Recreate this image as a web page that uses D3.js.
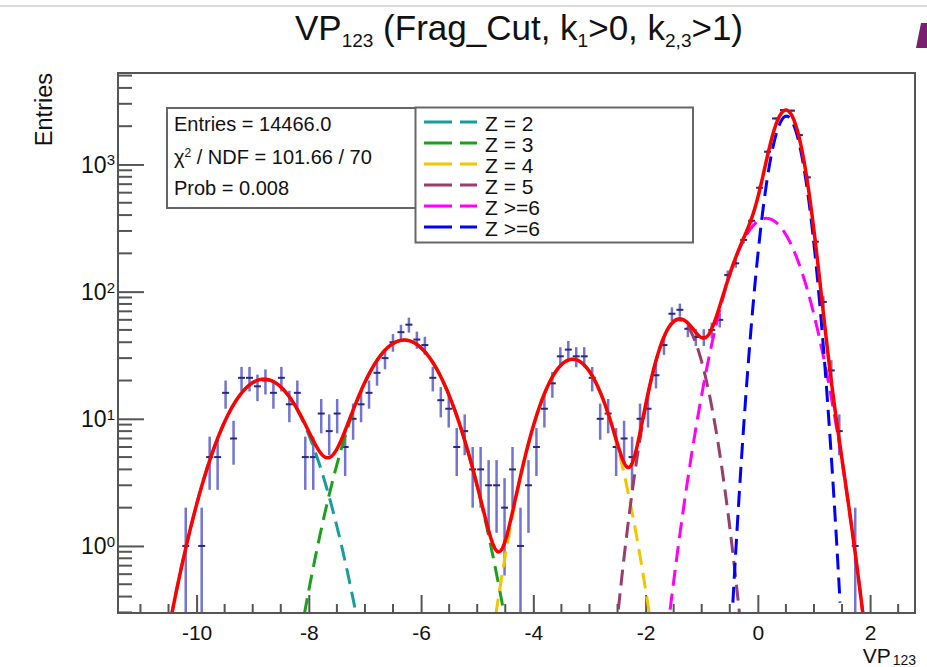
<!DOCTYPE html>
<html>
<head>
<meta charset="utf-8">
<script src="https://cdnjs.cloudflare.com/ajax/libs/d3/7.8.5/d3.min.js"></script>
<style>
body { margin: 0; background: #fff; }
svg { display: block; font-family: "Liberation Sans", Arial, Helvetica, sans-serif; }
</style>
</head>
<body>
<div id="chart"></div>
<script>
// ---- histogram (VP123), 100 bins from -11.4 to 2.8 ----
const binLow = -11.4;
const binWidth = 0.142;
const firstBin = 8;   // index of first bin listed below
const binCounts = [
  1, 0, 1, 5, 5, 16, 7, 21, 21, 18,
  20, 16, 21, 13, 16, 5, 5, 11, 8, 11,
  6, 10, 13, 16, 23, 30, 40, 48, 55, 42,
  38, 21, 14, 12, 6, 8, 4, 4, 3, 3,
  2, 4, 1, 3, 6, 12, 19, 31, 35, 31,
  31, 21, 10, 11, 6, 7, 5, 10, 12, 22,
  38, 67, 72, 51, 44, 44, 50, 60, 135, 167,
  255, 361, 656, 1259, 2300, 2678, 2650, 1702, 792, 247,
  83, 24, 8, 0, 1
];

// ---- fit components (gaussians) ----
const compLabels = ["Z = 2", "Z = 3", "Z = 4", "Z = 5", "Z >=6", "Z >=6"];
const compColors = ["#1a9c9c", "#1aa01a", "#f5c400", "#993d6b", "#ff00ff", "#0000ff"];
const compAmp    = [20.5, 41.6, 29.4, 60, 377, 2400];
const compMean   = [-8.8, -6.3, -3.3, -1.41, 0.15, 0.51];
const compSigma  = [0.563, 0.565, 0.45, 0.332, 0.455, 0.2275];

// ---- axes ----
const xMajorTicks = [-10, -8, -6, -4, -2, 0, 2];
const xTickLabels = ["-10", "-8", "-6", "-4", "-2", "0", "2"];
const yMajorTicks = [1, 10, 100, 1000];
const yTickExp = ["0", "1", "2", "3"];

const statsLines = ["Entries = 14466.0", "/ NDF = 101.66 / 70", "Prob = 0.008"];

const W = 927, H = 667;
const frame = {left: 118, right: 915, top: 73, bottom: 613};

const x = d3.scaleLinear().domain([-11.4, 2.8]).range([frame.left, frame.right]);
const y = d3.scaleLog().domain([0.297, 5240]).range([frame.bottom, frame.top]);

const svg = d3.select("#chart").append("svg")
    .attr("width", W)
    .attr("height", H);

svg.append("defs").append("clipPath").attr("id", "plotClip").append("rect")
    .attr("x", frame.left).attr("y", frame.top)
    .attr("width", frame.right - frame.left)
    .attr("height", frame.bottom - frame.top);

// thin line at top of the canvas
svg.append("line")
    .attr("x1", 0).attr("x2", W).attr("y1", 6).attr("y2", 6)
    .style("stroke", "#cfcfcf").style("stroke-width", 1.5);

// purple corner piece
svg.append("path")
    .attr("d", "M921,23 L927,23 L927,48 L916,48 Z")
    .style("fill", "#7a1f6e");

// ---- title ----
let title = svg.append("text")
    .attr("x", 519).attr("y", 40)
    .attr("text-anchor", "middle")
    .style("font-size", "35px")
    .style("fill", "#111");
title.append("tspan").text("VP");
title.append("tspan").attr("dy", 7).style("font-size", "19px").text("123");
title.append("tspan").attr("dy", -7).text(" (Frag_Cut, k");
title.append("tspan").attr("dy", 7).style("font-size", "19px").text("1");
title.append("tspan").attr("dy", -7).text(">0, k");
title.append("tspan").attr("dy", 7).style("font-size", "19px").text("2,3");
title.append("tspan").attr("dy", -7).text(">1)");

// ---- axes ----
let plot = svg.append("g");

let xAxis = d3.axisBottom(x)
    .tickValues(xMajorTicks)
    .tickSizeInner(-18)
    .tickSizeOuter(0)
    .tickPadding(12)
    .tickFormat((d, i) => xTickLabels[i]);

let xMinor = d3.range(-11, 2.8, 0.5).filter(v => xMajorTicks.indexOf(v) < 0);

let gx = plot.append("g")
    .attr("transform", "translate(0," + frame.bottom + ")")
    .call(xAxis);
gx.selectAll("text").style("font-size", "21px").style("fill", "#111")
    .style("font-family", "'Liberation Sans', Arial, sans-serif");
gx.selectAll(".tick line").style("stroke", "#555").style("stroke-width", 2);

gx.append("g").selectAll("line").data(xMinor).join("line")
    .attr("x1", d => x(d)).attr("x2", d => x(d))
    .attr("y1", 0).attr("y2", -9)
    .style("stroke", "#555").style("stroke-width", 2);

let yMinor = [];
[0.1, 1, 10, 100, 1000].forEach(dec => {
    for (let k = 2; k <= 9; k++) {
        let v = k * dec;
        if (v > 0.297 && v < 5240) yMinor.push(v);
    }
});

let yAxis = d3.axisLeft(y)
    .tickValues(yMajorTicks)
    .tickSizeInner(-26)
    .tickSizeOuter(0)
    .tickFormat("");

let gy = plot.append("g")
    .attr("transform", "translate(" + frame.left + ",0)")
    .call(yAxis);
gy.selectAll(".tick line").style("stroke", "#555").style("stroke-width", 2);

gy.append("g").selectAll("line").data(yMinor).join("line")
    .attr("x1", 0).attr("x2", 14)
    .attr("y1", d => y(d)).attr("y2", d => y(d))
    .style("stroke", "#555").style("stroke-width", 2);

yMajorTicks.forEach((v, i) => {
    let t = svg.append("text")
        .attr("x", frame.left - 3)
        .attr("y", y(v) + 8.4)
        .attr("text-anchor", "end")
        .style("font-size", "23px")
        .style("fill", "#111");
    t.append("tspan").text("10");
    t.append("tspan").attr("dy", -7.5).style("font-size", "15px").text(yTickExp[i]);
});

// axis titles
svg.append("text")
    .attr("transform", "translate(51.5,73) rotate(-90)")
    .attr("text-anchor", "end")
    .style("font-size", "23.5px")
    .style("fill", "#111")
    .text("Entries");

let xt = svg.append("text")
    .attr("x", frame.right + 1).attr("y", 663)
    .attr("text-anchor", "end")
    .style("font-size", "21px")
    .style("fill", "#111");
xt.append("tspan").text("VP");
xt.append("tspan").attr("dx", 2).attr("dy", 2).style("font-size", "14px").text("123");

// ---- histogram points ----
let pts = binCounts.map((n, i) => {
    let lo = binLow + (firstBin + i) * binWidth;
    return {lo: lo, hi: lo + binWidth, c: lo + binWidth / 2, n: n};
}).filter(d => d.n > 0);

let hist = svg.append("g").attr("clip-path", "url(#plotClip)");

hist.selectAll("line.ev").data(pts).join("line")
    .attr("class", "ev")
    .attr("x1", d => x(d.c)).attr("x2", d => x(d.c))
    .attr("y1", d => (d.n - Math.sqrt(d.n)) > 0.01 ? y(d.n - Math.sqrt(d.n)) : frame.bottom + 10)
    .attr("y2", d => y(d.n + Math.sqrt(d.n)))
    .style("stroke", "#7373d2").style("stroke-width", 2.5);

hist.selectAll("line.eh").data(pts).join("line")
    .attr("class", "eh")
    .attr("x1", d => x(d.lo) + 0.5).attr("x2", d => x(d.hi) - 0.5)
    .attr("y1", d => y(d.n)).attr("y2", d => y(d.n))
    .style("stroke", "#28287e").style("stroke-width", 2);

// ---- fit curves ----
let xs = d3.range(-11.4, 2.8001, 0.005);
function gaus(k, v) {
    let t = (v - compMean[k]) / compSigma[k];
    return compAmp[k] * Math.exp(-0.5 * t * t);
}
function total(v) {
    let s = 0;
    for (let k = 0; k < compAmp.length; k++) s += gaus(k, v);
    return s;
}
let line = d3.line()
    .x(d => x(d[0]))
    .y(d => y(Math.max(d[1], 0.01)));

let curves = svg.append("g").attr("clip-path", "url(#plotClip)");

compAmp.forEach((a, k) => {
    let dom = xs.filter(v => Math.abs(v - compMean[k]) < 4.2 * compSigma[k]);
    curves.append("path")
        .datum(dom.map(v => [v, gaus(k, v)]))
        .attr("d", line)
        .style("fill", "none")
        .style("stroke", compColors[k])
        .style("stroke-width", 3)
        .style("stroke-dasharray", "16,8");
});

curves.append("path")
    .datum(xs.map(v => [v, total(v)]))
    .attr("d", line)
    .style("fill", "none")
    .style("stroke", "#ff0000")
    .style("stroke-width", 3.5);

// ---- frame ----
svg.append("rect")
    .attr("x", frame.left).attr("y", frame.top)
    .attr("width", frame.right - frame.left)
    .attr("height", frame.bottom - frame.top)
    .style("fill", "none").style("stroke", "#555").style("stroke-width", 2);

// ---- stats box ----
svg.append("rect")
    .attr("x", 167).attr("y", 108).attr("width", 250).attr("height", 100)
    .style("fill", "#fff").style("stroke", "#666").style("stroke-width", 2);

let statY = [131, 164, 195];
statsLines.forEach((s, i) => {
    let t = svg.append("text")
        .attr("x", 174).attr("y", statY[i])
        .style("font-size", "20px")
        .style("fill", "#111");
    if (i === 1) {
        t.append("tspan").text("\u03C7");
        t.append("tspan").attr("dy", -7).style("font-size", "12px").text("2");
        t.append("tspan").attr("dy", 7).text(" " + s);
    } else {
        t.text(s);
    }
});

// ---- legend ----
svg.append("rect")
    .attr("x", 415.5).attr("y", 107.5).attr("width", 277.5).attr("height", 135)
    .style("fill", "#fff").style("stroke", "#666").style("stroke-width", 2);

let legY = [122, 143, 164, 185, 206, 227];
compLabels.forEach((lab, k) => {
    svg.append("line")
        .attr("x1", 424).attr("x2", 477)
        .attr("y1", legY[k]).attr("y2", legY[k])
        .style("stroke", compColors[k]).style("stroke-width", 3)
        .style("stroke-dasharray", "28,8");
    svg.append("text")
        .attr("x", 485).attr("y", legY[k] + 8.5)
        .style("font-size", "21px")
        .style("fill", "#111")
        .text(lab);
});
</script>
</body>
</html>
